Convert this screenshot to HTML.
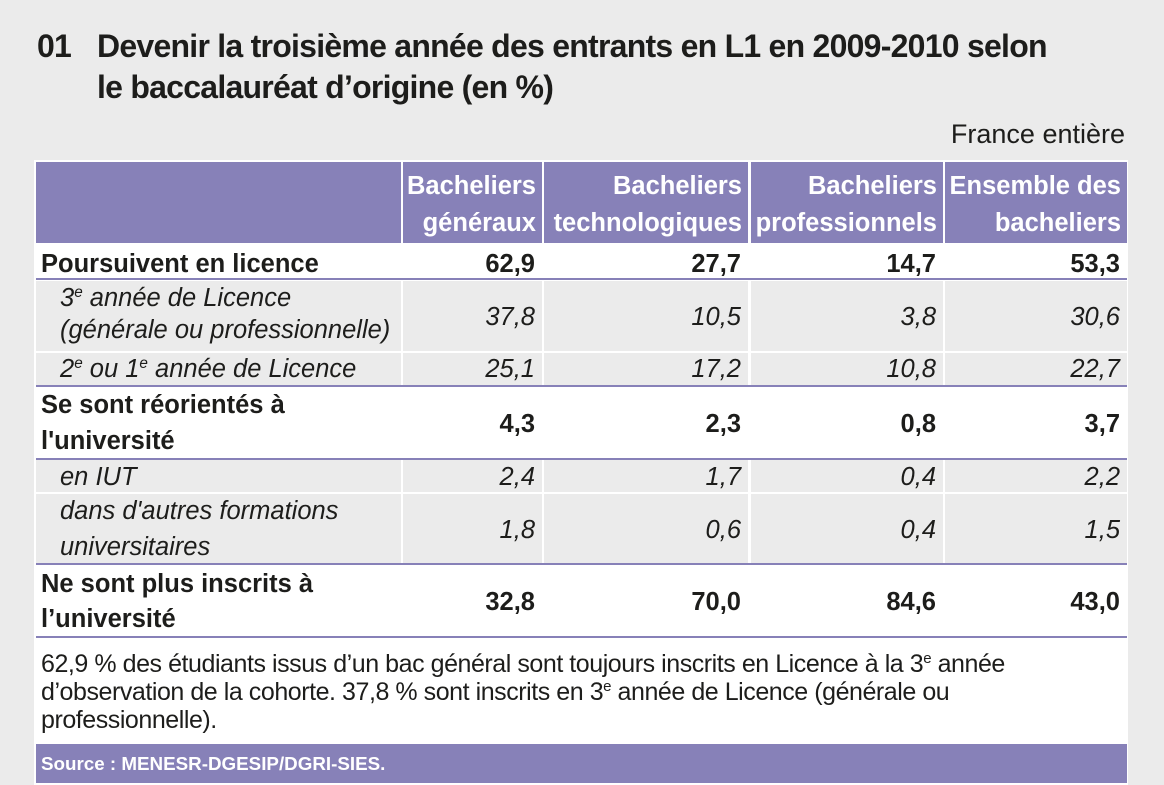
<!DOCTYPE html>
<html><head><meta charset="utf-8">
<style>
html,body{margin:0;padding:0}
body{width:1164px;height:785px;background:#ebebeb;position:relative;overflow:hidden;font-family:"Liberation Sans",Arial,sans-serif;color:#1d1d1b}
.a{position:absolute}
.p{background:#8781b8}
.g{background:#ebebeb}
.w{background:#ffffff}
.t{position:absolute;white-space:nowrap;line-height:32px;font-size:25.5px}
.b{font-weight:bold}
.i{font-style:italic}
.h{color:#fff;font-weight:bold}
.ti{position:absolute;white-space:nowrap;font-weight:bold;font-size:32px;line-height:40px;letter-spacing:-0.75px}
.n{position:absolute;white-space:nowrap;font-size:25px;line-height:28px;letter-spacing:-0.45px}
sup{font-size:0.6em;vertical-align:0;position:relative;top:-0.6em;line-height:0}
</style></head>
<body>

<!-- Title -->
<div class="ti" style="left:37px;top:26px;">01</div>
<div class="ti" style="left:97px;top:26px;">Devenir la troisième année des entrants en L1 en 2009-2010 selon</div>
<div class="ti" style="left:97px;top:67px;">le baccalauréat d’origine (en %)</div>

<div class="a" style="right:39px;top:118px;font-size:27px;line-height:32px;white-space:nowrap;">France entière</div>

<!-- white container -->
<div class="a w" style="left:34px;top:160px;width:1094px;height:625px;"></div>

<!-- header cells -->
<div class="a p" style="left:36px;top:162px;width:365px;height:81px;"></div>
<div class="a p" style="left:403px;top:162px;width:139px;height:81px;"></div>
<div class="a p" style="left:544px;top:162px;width:204px;height:81px;"></div>
<div class="a p" style="left:751px;top:162px;width:192px;height:81px;"></div>
<div class="a p" style="left:945px;top:162px;width:182px;height:81px;"></div>

<div class="t h" style="right:628px;top:170px;">Bacheliers</div>
<div class="t h" style="right:628px;top:207px;">généraux</div>
<div class="t h" style="right:422px;top:170px;">Bacheliers</div>
<div class="t h" style="right:422px;top:207px;">technologiques</div>
<div class="t h" style="right:227px;top:170px;">Bacheliers</div>
<div class="t h" style="right:227px;top:207px;">professionnels</div>
<div class="t h" style="right:43px;top:170px;">Ensemble des</div>
<div class="t h" style="right:43px;top:207px;">bacheliers</div>

<!-- gray rows -->
<div class="a g" style="left:36px;top:281px;width:365px;height:70px;"></div>
<div class="a g" style="left:403px;top:281px;width:139px;height:70px;"></div>
<div class="a g" style="left:544px;top:281px;width:204px;height:70px;"></div>
<div class="a g" style="left:751px;top:281px;width:192px;height:70px;"></div>
<div class="a g" style="left:945px;top:281px;width:182px;height:70px;"></div>

<div class="a g" style="left:36px;top:353px;width:365px;height:32px;"></div>
<div class="a g" style="left:403px;top:353px;width:139px;height:32px;"></div>
<div class="a g" style="left:544px;top:353px;width:204px;height:32px;"></div>
<div class="a g" style="left:751px;top:353px;width:192px;height:32px;"></div>
<div class="a g" style="left:945px;top:353px;width:182px;height:32px;"></div>

<div class="a g" style="left:36px;top:460px;width:365px;height:32px;"></div>
<div class="a g" style="left:403px;top:460px;width:139px;height:32px;"></div>
<div class="a g" style="left:544px;top:460px;width:204px;height:32px;"></div>
<div class="a g" style="left:751px;top:460px;width:192px;height:32px;"></div>
<div class="a g" style="left:945px;top:460px;width:182px;height:32px;"></div>

<div class="a g" style="left:36px;top:494px;width:365px;height:69px;"></div>
<div class="a g" style="left:403px;top:494px;width:139px;height:69px;"></div>
<div class="a g" style="left:544px;top:494px;width:204px;height:69px;"></div>
<div class="a g" style="left:751px;top:494px;width:192px;height:69px;"></div>
<div class="a g" style="left:945px;top:494px;width:182px;height:69px;"></div>

<!-- purple rule lines -->
<div class="a p" style="left:36px;top:278px;width:1091px;height:2px;"></div>
<div class="a p" style="left:36px;top:385px;width:1091px;height:2px;"></div>
<div class="a p" style="left:36px;top:458px;width:1091px;height:2px;"></div>
<div class="a p" style="left:36px;top:563px;width:1091px;height:2px;"></div>
<div class="a p" style="left:36px;top:636px;width:1091px;height:2px;"></div>

<!-- Row 1 -->
<div class="t b" style="left:41px;top:248px;">Poursuivent en licence</div>
<div class="t b" style="right:629px;top:248px;">62,9</div>
<div class="t b" style="right:423px;top:248px;">27,7</div>
<div class="t b" style="right:228px;top:248px;">14,7</div>
<div class="t b" style="right:44px;top:248px;">53,3</div>

<!-- Row 2 -->
<div class="t i" style="left:60px;top:282px;">3<sup>e</sup> année de Licence</div>
<div class="t i" style="left:60px;top:314px;">(générale ou professionnelle)</div>
<div class="t i" style="right:629px;top:301px;">37,8</div>
<div class="t i" style="right:423px;top:301px;">10,5</div>
<div class="t i" style="right:228px;top:301px;">3,8</div>
<div class="t i" style="right:44px;top:301px;">30,6</div>

<!-- Row 3 -->
<div class="t i" style="left:60px;top:353px;">2<sup>e</sup> ou 1<sup>e</sup> année de Licence</div>
<div class="t i" style="right:629px;top:353px;">25,1</div>
<div class="t i" style="right:423px;top:353px;">17,2</div>
<div class="t i" style="right:228px;top:353px;">10,8</div>
<div class="t i" style="right:44px;top:353px;">22,7</div>

<!-- Row 4 -->
<div class="t b" style="left:41px;top:389px;">Se sont réorientés à</div>
<div class="t b" style="left:41px;top:425px;">l'université</div>
<div class="t b" style="right:629px;top:408px;">4,3</div>
<div class="t b" style="right:423px;top:408px;">2,3</div>
<div class="t b" style="right:228px;top:408px;">0,8</div>
<div class="t b" style="right:44px;top:408px;">3,7</div>

<!-- Row 5 -->
<div class="t i" style="left:60px;top:461px;">en IUT</div>
<div class="t i" style="right:629px;top:461px;">2,4</div>
<div class="t i" style="right:423px;top:461px;">1,7</div>
<div class="t i" style="right:228px;top:461px;">0,4</div>
<div class="t i" style="right:44px;top:461px;">2,2</div>

<!-- Row 6 -->
<div class="t i" style="left:60px;top:495px;">dans d'autres formations</div>
<div class="t i" style="left:60px;top:531px;">universitaires</div>
<div class="t i" style="right:629px;top:514px;">1,8</div>
<div class="t i" style="right:423px;top:514px;">0,6</div>
<div class="t i" style="right:228px;top:514px;">0,4</div>
<div class="t i" style="right:44px;top:514px;">1,5</div>

<!-- Row 7 -->
<div class="t b" style="left:41px;top:568px;">Ne sont plus inscrits à</div>
<div class="t b" style="left:41px;top:603px;">l’université</div>
<div class="t b" style="right:629px;top:586px;">32,8</div>
<div class="t b" style="right:423px;top:586px;">70,0</div>
<div class="t b" style="right:228px;top:586px;">84,6</div>
<div class="t b" style="right:44px;top:586px;">43,0</div>

<!-- Note -->
<div class="n" style="left:41px;top:650px;">62,9 % des étudiants issus d’un bac général sont toujours inscrits en Licence à la 3<sup>e</sup> année</div>
<div class="n" style="left:41px;top:678px;">d’observation de la cohorte. 37,8 % sont inscrits en 3<sup>e</sup> année de Licence (générale ou</div>
<div class="n" style="left:41px;top:706px;">professionnelle).</div>

<!-- Source bar -->
<div class="a p" style="left:36px;top:744px;width:1091px;height:39px;"></div>
<div class="a" style="left:41px;top:752px;font-size:18.8px;line-height:24px;font-weight:bold;color:#fff;white-space:nowrap;">Source : MENESR-DGESIP/DGRI-SIES.</div>

</body></html>
